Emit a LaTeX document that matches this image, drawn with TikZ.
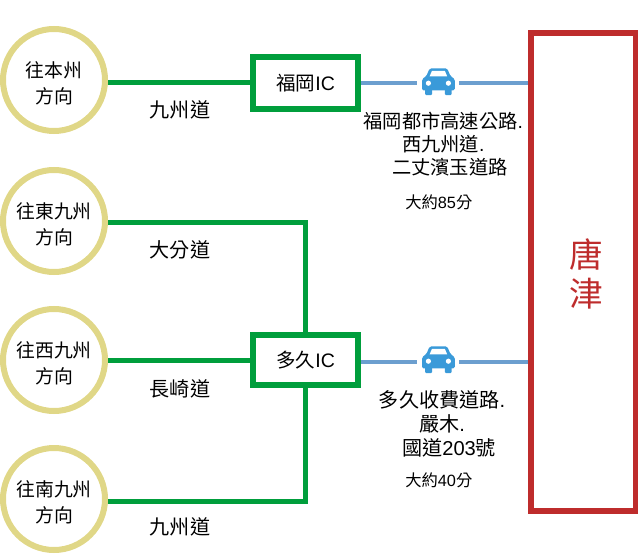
\documentclass[tikz,border=0pt]{standalone}
\usepackage{fontspec}
\usepackage{tikz}
\usepackage{xcolor}
\setmainfont{Liberation Sans}
\newfontfamily\cjkfont{Noto Sans CJK TC}
\newcommand{\zh}[1]{{\cjkfont #1}}
\usetikzlibrary{positioning, calc}
\definecolor{cRoad}{RGB}{0,158,60}
\definecolor{cRing}{RGB}{224,215,135}
\definecolor{cRoute}{RGB}{108,159,207}
\definecolor{cCar}{RGB}{58,154,217}
\definecolor{cCity}{RGB}{190,44,44}
\tikzset{
	dest/.style     ={circle, draw=cRing, line width=0.15cm, minimum size=2.55cm, inner sep=0pt},
	destlbl/.style  ={align=center, yshift=-0.09cm, font=\fontsize{13.4}{18.7}\selectfont},
	ic/.style       ={rectangle, draw=cRoad, line width=0.15cm, minimum width=2.64cm, minimum height=1.3cm, align=center, font=\fontsize{13.9}{18.5}\selectfont},
	city/.style     ={rectangle, draw=cCity, line width=0.14cm, minimum width=2.62cm, minimum height=11.95cm},
	citylbl/.style  ={align=center, text=cCity, font=\fontsize{24}{27.7}\selectfont},
	road/.style     ={cRoad, line width=0.125cm},
	route/.style    ={cRoute, line width=0.085cm},
	roadlbl/.style  ={align=center, font=\fontsize{14.3}{17}\selectfont},
	timelbl/.style  ={font=\fontsize{11.6}{14}\selectfont},
	carslot/.style  ={rectangle, fill=white, minimum width=1.05cm, minimum height=0.7cm, inner sep=0pt},
	car/.pic={
		\fill[cCar, rounded corners=0.04cm] (-0.41,-0.22) -- (-0.41,0.06) -- (-0.3,0.14) -- (-0.22,0.33) -- (0.22,0.33) -- (0.3,0.14) -- (0.41,0.06) -- (0.41,-0.22) -- cycle;
		\fill[cCar, rounded corners=0.03cm] (-0.33,-0.34) rectangle (-0.16,-0.15);
		\fill[cCar, rounded corners=0.03cm] (0.16,-0.34) rectangle (0.33,-0.15);
		\fill[white] (-0.22,0.13) -- (-0.16,0.27) -- (0.16,0.27) -- (0.22,0.13) -- cycle;
		\fill[white] (-0.25,-0.04) circle (0.065);
		\fill[white] (0.25,-0.04) circle (0.065);
	},
}

\begin{document}
\begin{tikzpicture}
	\useasboundingbox (0,0) rectangle (16,13.85);
	% destinations
	\node[dest, label={[destlbl]center:{\zh{往本州}\\\zh{方向}}}]   (honshu)  at (1.35,11.85) {};
	\node[dest, label={[destlbl]center:{\zh{往東九州}\\\zh{方向}}}] (higashi) at (1.35,8.325) {};
	\node[dest, label={[destlbl]center:{\zh{往西九州}\\\zh{方向}}}] (nishi)   at (1.35,4.85)  {};
	\node[dest, label={[destlbl]center:{\zh{往南九州}\\\zh{方向}}}] (minami)  at (1.35,1.375) {};
	% interchanges and city
	\node[ic] (fukuoka) at (7.64,11.775) {\zh{福岡}IC};
	\node[ic, minimum height=1.25cm] (taku) at (7.64,4.85) {\zh{多久}IC};
	\node[city, label={[citylbl, xshift=0.07cm, yshift=-0.04cm]center:{\zh{唐}\\\zh{津}}}] (karatsu) at (14.58,7.05) {};
	% roads
	\draw[road] (honshu.east |- fukuoka.west) -- (fukuoka.west);
	\draw[road] (higashi.east |- 0,8.29) -| (taku);
	\draw[road] (nishi) -- (taku);
	\draw[road] (minami.east |- 0,1.31) -| (taku);
	\draw[route] (fukuoka.east) -- (fukuoka.east -| karatsu.west);
	\draw[route] ($(taku.east)+(0,-0.05)$) -- ($(taku.east -| karatsu.west)+(0,-0.05)$);
	\node[carslot] (carA) at (10.96,11.81) {};
	\node[carslot] (carB) at (10.96,4.86) {};
	\pic at (carA) {car};
	\pic at (carB) {car};
	% labels
	\node[roadlbl] (roadA) at (4.5,11.1)  {\zh{九州道}};
	\node[roadlbl] (roadB) at (4.5,7.6)   {\zh{大分道}};
	\node[roadlbl] (roadC) at (4.5,4.125) {\zh{長崎道}};
	\node[roadlbl] (roadD) at (4.5,0.675) {\zh{九州道}};
	\node[roadlbl, font=\fontsize{13.7}{16.4}\selectfont] (viaA) at (11.08,10.25) {\zh{福岡都市高速公路}.\\\zh{西九州道}.\\\hspace*{0.7em}\zh{二丈濱玉道路}};
	\node[roadlbl] (viaB) at (11.05,3.26) {\zh{多久收費道路}.\\\zh{嚴木}.\\\hspace*{0.7em}\zh{國道}203\zh{號}};
	\node[timelbl] (timeA) at (10.97,8.8) {\zh{大約}85\zh{分}};
	\node[timelbl] (timeB) at (10.97,1.85) {\zh{大約}40\zh{分}};
\end{tikzpicture}
\end{document}
